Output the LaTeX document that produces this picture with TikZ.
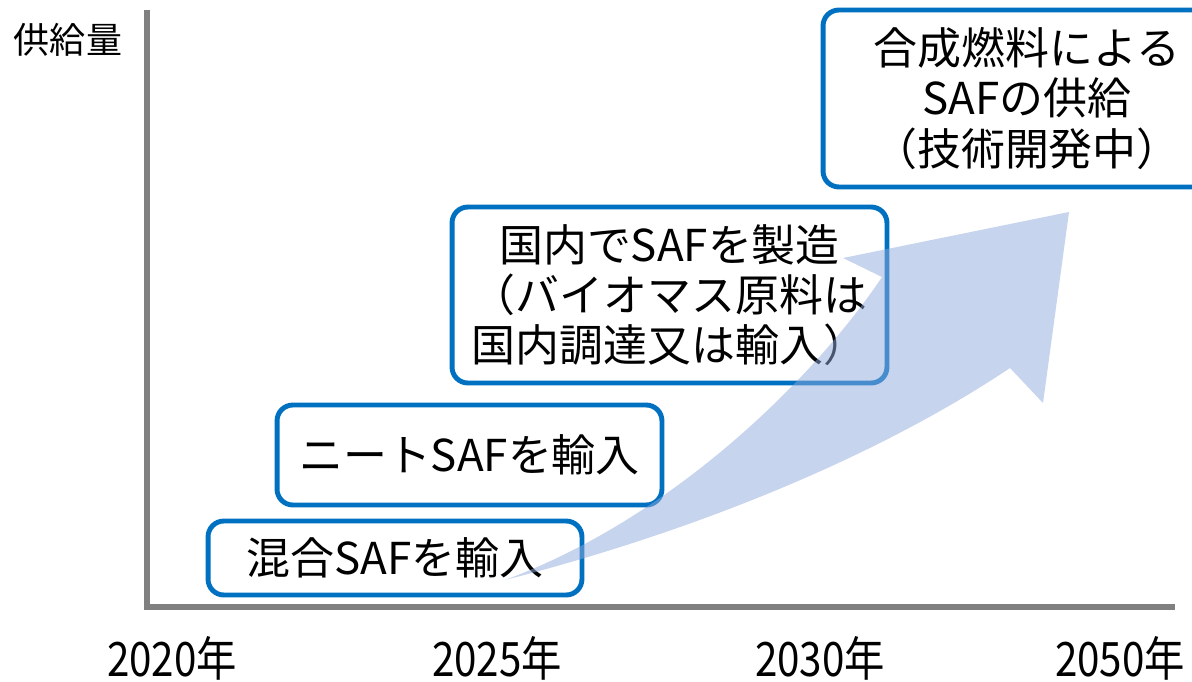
\documentclass[tikz,border=0pt]{standalone}
\usepackage{fontspec}
\newfontfamily\jp{Noto Sans CJK JP}
\definecolor{boxblue}{RGB}{0,112,192}
\definecolor{axisgray}{RGB}{128,128,128}
\definecolor{arrowblue}{RGB}{143,170,220}

\begin{document}
\begin{tikzpicture}[x=0.02cm,y=-0.02cm,
        plan/.style={draw=boxblue,line width=2.8pt,rounded corners=9pt,
            align=center,inner sep=0pt,font=\jp\fontsize{25}{28.5}\selectfont},
        year/.style={xscale=0.85,transform shape,inner sep=0pt,
            font=\jp\fontsize{27}{30}\selectfont}]
        % frame of the picture
        \useasboundingbox (0,0) rectangle (1192,682);
        \clip (0,0) rectangle (1192,682);

        % draw the axes
        \coordinate (top) at (147,10);
        \coordinate (origin) at (147,607);
        \coordinate (right) at (1175,607);
        \draw[axisgray,line width=3.4pt] (top) -- (origin) -- (right);
        \node[font=\jp\fontsize{20.5}{24}\selectfont] (supply) at (68,40) {供給量};

        % years on the time axis
        \foreach \x/\yr in {172/2020,497/2025,820/2030,1120/2050}
                \node[year] (y\yr) at (\x,658) {\yr 年};

        % the steps
        \node[plan,minimum width=7.48cm,minimum height=1.48cm] (mix) at (395,558) {混合SAFを輸入};
        \node[plan,minimum width=7.7cm,minimum height=2cm] (neat) at (469.5,455) {ニートSAFを輸入};
        \node[plan,minimum width=8.7cm,minimum height=3.52cm] (domestic) at (669.5,295)
                {国内でSAFを製造\\（バイオマス原料は\\国内調達又は輸入）};
        \node[plan,minimum width=8.16cm,minimum height=3.54cm] (synth) at (1027,98.5)
                {合成燃料による\\SAFの供給\\（技術開発中）};

        % growth arrow
        \coordinate (tail) at (505,580);
        \coordinate (tip) at (1069,212);
        \fill[arrowblue,opacity=0.5] (tail) .. controls (680,515) and (820,370) .. (882,277)
                -- (843,258) -- (tip) -- (1043,403) -- (1010,368)
                .. controls (880,455) and (700,530) .. (tail) -- cycle;
\end{tikzpicture}
\end{document}
